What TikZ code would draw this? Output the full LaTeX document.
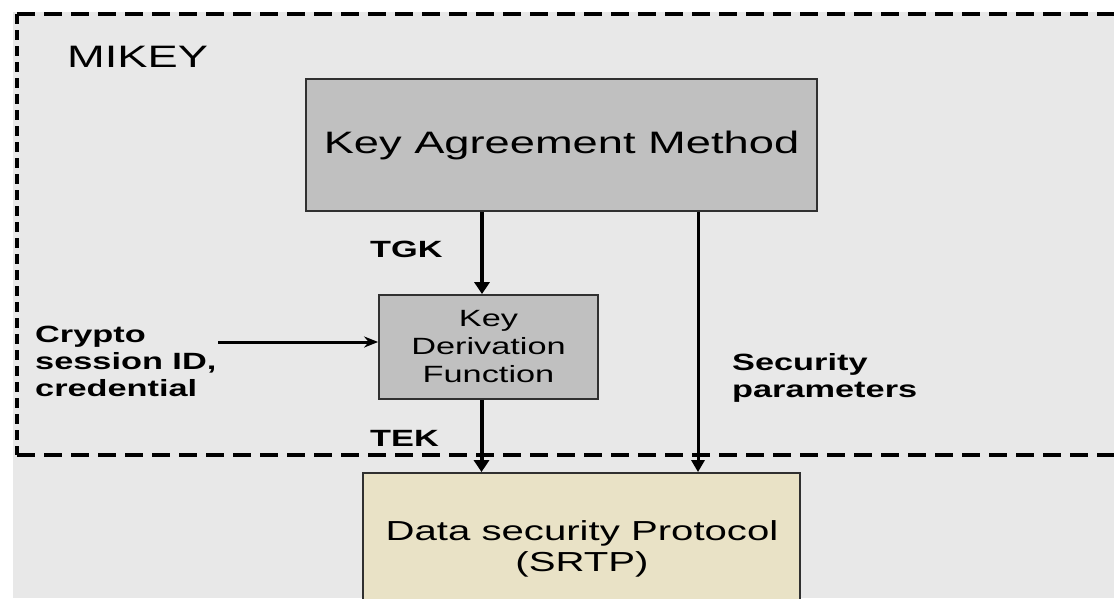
\documentclass[tikz,border=0pt]{standalone}
\usepackage{fontspec}
\setmainfont{Liberation Sans}[FakeStretch=1.46]
\usetikzlibrary{arrows.meta}
\definecolor{bg}{HTML}{E8E8E8}
\definecolor{boxgray}{HTML}{C0C0C0}
\definecolor{beige}{HTML}{E9E2C6}
\definecolor{edge}{HTML}{303030}
\begin{document}
\begin{tikzpicture}[x=1pt,y=-1pt,
  boxstyle/.style={draw=edge, line width=1.8pt, fill=boxgray, inner sep=0pt, align=center, text=black},
  lbl/.style={inner sep=0pt, font=\fontsize{23.5}{27}\selectfont\bfseries, align=left},
  fatarrow/.style={line width=4pt, -{Triangle[length=12pt,width=15pt]}},
  thinarrow/.style={line width=3pt, -{Triangle[length=12pt,width=13pt]}},
  hborder/.style={line width=3.5pt, dash pattern=on 18pt off 9pt},
  vborder/.style={line width=4.5pt, dash pattern=on 10pt off 6pt},
  ]
\useasboundingbox (0,0) rectangle (1114,598);
\clip (0,0) rectangle (1114,598);
\fill[white] (0,0) rectangle (1114,598);
\fill[bg] (13,12) rectangle (1114,598);

% MIKEY region border (dashed)
\coordinate (tl) at (17,14);
\coordinate (bl) at (17,455);
\coordinate (tr) at (1114,14);
\coordinate (br) at (1114,455);
\draw[vborder] (tl) -- (bl);
\draw[hborder] (tl) -- (tr);
\draw[hborder] (bl) -- (br);

\node[inner sep=0pt, anchor=base west, font=\fontsize{31}{36}\selectfont] (mikey) at (67,67) {MIKEY};

% boxes
\node[boxstyle, minimum width=511pt, minimum height=132pt, font=\fontsize{31}{36}\selectfont] (kam) at (561.5,145) {Key Agreement Method};
\node[boxstyle, minimum width=219pt, minimum height=104pt, font=\fontsize{23.5}{28}\selectfont] (kdf) at (488.5,347) {Key\\Derivation\\Function};
\node[boxstyle, fill=beige, minimum width=437pt, minimum height=147pt] (srtp) at (581.5,546.5) {};
\node[inner sep=0pt, align=center, font=\fontsize{27.5}{31}\selectfont] (srtptext) at (582,549) {Data security Protocol\\(SRTP)};

% labels
\node[lbl, anchor=base west] (tgk) at (370,257) {TGK};
\node[lbl, anchor=base west] (tek) at (370,446) {TEK};
\node[lbl, anchor=north west] (crypto) at (35,326) {Crypto\\session ID,\\credential};
\node[lbl, anchor=north west] (secp) at (732,353) {Security\\parameters};

% connectors
\coordinate (cstart) at (218,342);
\coordinate (spx) at (698,0);
\draw[fatarrow] ([xshift=-6.5pt]kdf.north |- kam.south) -- ([xshift=-6.5pt]kdf.north);
\draw[fatarrow] ([xshift=-7pt]kdf.south) -- ([xshift=-7pt]kdf.south |- srtp.north);
\draw[thinarrow] (spx |- kam.south) -- (spx |- srtp.north);
\draw[line width=3pt, -{Stealth[length=14pt,width=11pt]}] (cstart) -- (kdf.west |- cstart);
\end{tikzpicture}
\end{document}
